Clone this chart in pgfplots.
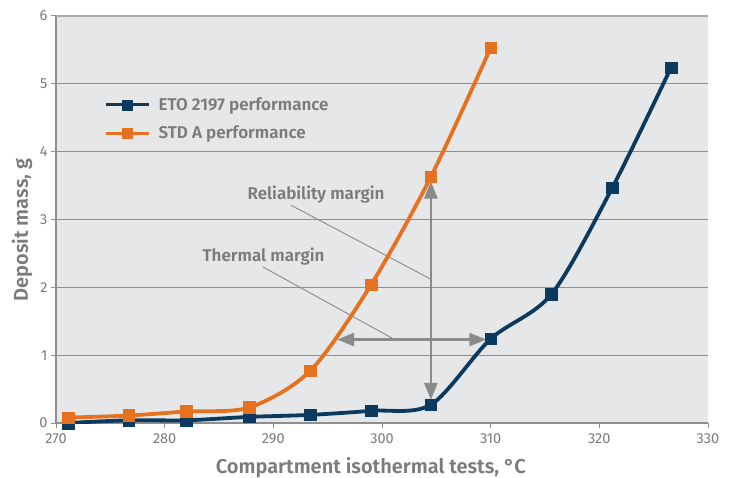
\documentclass[border=0pt]{standalone}
\usepackage{pgfplots}
\pgfplotsset{compat=1.18}
\usepackage{fontspec}
\setmainfont{Fira Sans}[BoldFont={Fira Sans SemiBold}]
\usetikzlibrary{arrows.meta}

\definecolor{eto}{HTML}{0B3A5E}
\definecolor{stda}{HTML}{E6711F}
\definecolor{bg}{HTML}{E6E7E8}
\definecolor{gridc}{HTML}{8E8E8E}
\definecolor{topc}{HTML}{A8A8A8}
\definecolor{txt}{HTML}{7B7B7B}
\definecolor{arr}{HTML}{8A8A8A}

\newcommand{\tk}{\fontsize{14.5}{14.5}\selectfont\color{txt}}

\begin{document}
\begin{tikzpicture}
\useasboundingbox (0,0) rectangle (736pt,477pt);
\begin{axis}[
  at={(56pt,54pt)}, anchor=south west,
  scale only axis, width=652pt, height=407pt,
  xmin=270, xmax=330, ymin=0, ymax=6,
  xtick={270,280,...,330}, ytick={0,1,...,6},
  axis x line*=bottom, axis y line*=left,
  axis line style={gridc, line width=1.2pt},
  tick align=outside, major tick length=5pt,
  tick style={gridc, line width=1pt},
  ymajorgrids, grid style={gridc, line width=1.1pt},
  axis background/.style={fill=bg},
  /pgf/number format/assume math mode=true,
  xticklabel={\tk\pgfmathprintnumber{\tick}},
  yticklabel={\tk\pgfmathprintnumber{\tick}},
  xticklabel style={yshift=-2pt},
  xlabel={Compartment isothermal tests, °C},
  ylabel={Deposit mass, g},
  label style={font=\fontsize{20}{20}\selectfont\bfseries, text=txt},
  xlabel style={at={(axis description cs:0.483,-0.123)}, anchor=base},
  ylabel style={at={(axis description cs:-0.052,0.474)}, anchor=center},
  legend style={at={(axis description cs:0.0736,0.805)}, anchor=north west,
    draw=none, fill=none, inner sep=0pt, row sep=10pt,
    font=\fontsize{17}{17}\selectfont\bfseries, text=txt},
  legend cell align=left,
  legend image code/.code={\draw[#1, line width=3pt, mark repeat=2, mark phase=2, mark size=5pt]
    plot coordinates {(0pt,0pt) (21.5pt,0pt) (43pt,0pt)};
    \path (49pt,0pt);},
]
% top border
\draw[topc, line width=2pt] (rel axis cs:0,1) -- (rel axis cs:1,1);

% margins
\draw[arr, line width=2.6pt, {Triangle[length=17pt,width=13pt]}-{Triangle[length=17pt,width=13pt]}]
  (axis cs:295.87,1.23) -- (axis cs:309.6,1.23);
\draw[arr, line width=2.6pt, {Triangle[length=17pt,width=13pt]}-{Triangle[length=17pt,width=13pt]}]
  (axis cs:304.5,3.56) -- (axis cs:304.5,0.34);
\draw[arr, line width=0.9pt] (axis cs:291.63,3.21) -- (axis cs:304.5,2.12);
\draw[arr, line width=0.9pt] (axis cs:289.05,2.30) -- (axis cs:300.94,1.25);
\node[font=\fontsize{17}{17}\selectfont\bfseries, text=txt] at (axis cs:293.93,3.37) {Reliability margin};
\node[font=\fontsize{17}{17}\selectfont\bfseries, text=txt] at (axis cs:289.1,2.46) {Thermal margin};

\addplot[eto, line width=3.8pt, smooth, mark=square*, mark size=5.8pt, mark options={line width=0.5pt}]
  coordinates {
  (271.1,0.00) (276.7,0.04) (282.0,0.04) (287.8,0.09) (293.4,0.12) (299.0,0.18)
  (304.5,0.27) (310.0,1.24) (315.6,1.90) (321.2,3.47) (326.6,5.24)
  };
\addlegendentry{ETO 2197 performance}

\addplot[stda, line width=3.8pt, smooth, mark=square*, mark size=5.8pt, mark options={line width=0.5pt}]
  coordinates {
  (271.1,0.08) (276.7,0.11) (282.0,0.17) (287.8,0.23) (293.4,0.77) (299.0,2.04)
  (304.5,3.63) (310.0,5.53)
  };
\addlegendentry{STD A performance}
\end{axis}
\end{tikzpicture}
\end{document}
